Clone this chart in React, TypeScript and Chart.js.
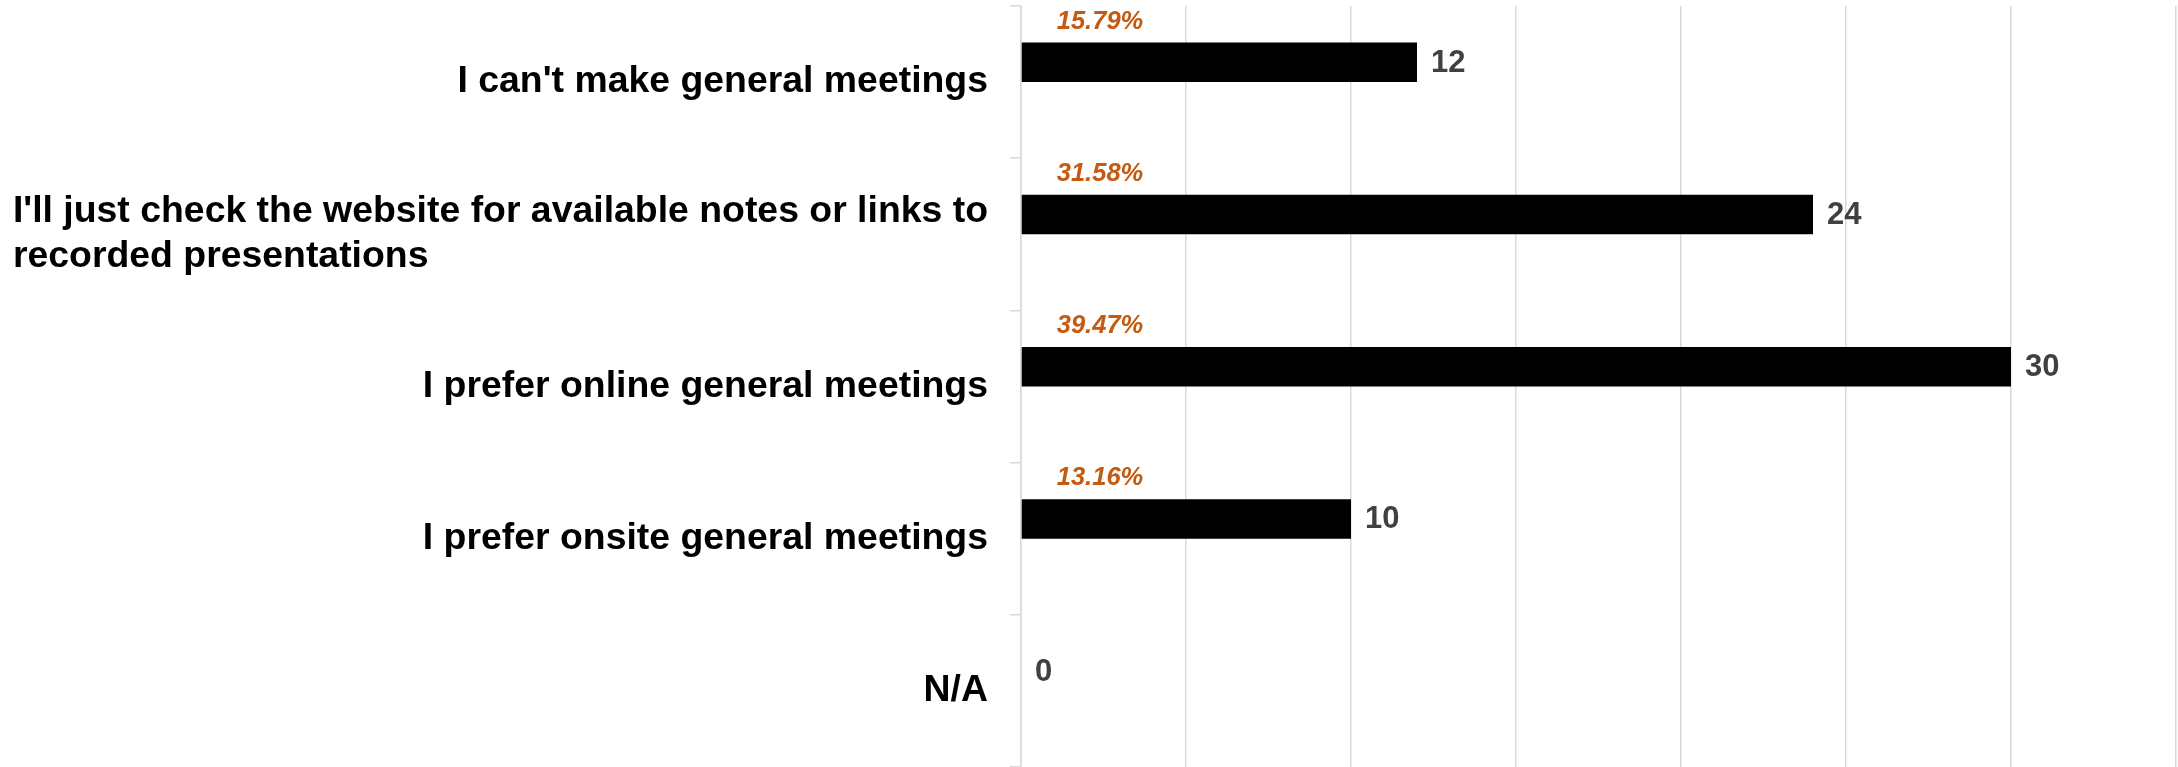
import { useEffect, useRef } from 'react';
import { Chart, registerables } from 'chart.js';

Chart.register(...registerables);

const categories: string[][] = [
  ["I can't make general meetings"],
  ["I'll just check the website for available notes or links to", "recorded presentations"],
  ["I prefer online general meetings"],
  ["I prefer onsite general meetings"],
  ["N/A"],
];
const counts: number[] = [12, 24, 30, 10, 0];
const percentLabels: (string | null)[] = ["15.79%", "31.58%", "39.47%", "13.16%", null];
const spacer: (number | null)[] = [null, null, null, null, null];
const xMin = 0;
const xMax = 35;
const xStep = 5;

const FONT = 'Arial, "Liberation Sans", sans-serif';
const GRID = '#d9d9d9';

const labelPlugin = {
  id: 'customLabels',
  afterDraw(chart: any) {
    const ctx = chart.ctx as CanvasRenderingContext2D;
    const xs = chart.scales.x;
    const ys = chart.scales.y;
    const meta = chart.getDatasetMeta(0);
    ctx.save();
    ctx.textBaseline = 'middle';

    // category labels
    ctx.font = `bold 37.4px ${FONT}`;
    ctx.fillStyle = '#000000';
    const right = xs.left - 33;
    const lh = 45;
    (chart.data.labels as string[][]).forEach((lines, i) => {
      const cy = ys.getPixelForValue(i);
      const w = Math.max(...lines.map((l) => ctx.measureText(l).width));
      lines.forEach((line, j) => {
        const ly = cy + (j - (lines.length - 1) / 2) * lh;
        if (lines.length === 1) {
          ctx.textAlign = 'right';
          ctx.fillText(line, right, ly);
        } else {
          ctx.textAlign = 'left';
          ctx.fillText(line, right - w, ly);
        }
      });
    });

    // value labels
    const base = xs.getPixelForValue(0);
    meta.data.forEach((bar: any, i: number) => {
      const v = counts[i];
      ctx.font = `bold 31px ${FONT}`;
      ctx.fillStyle = '#404040';
      ctx.textAlign = 'left';
      ctx.fillText(String(v), bar.x + 14, bar.y + 1);
      const p = percentLabels[i];
      if (p) {
        ctx.font = `italic bold 25.5px ${FONT}`;
        ctx.fillStyle = '#C55A11';
        ctx.textAlign = 'center';
        ctx.fillText(p, base + 79, bar.y - bar.height / 2 - 21);
      }
    });
    ctx.restore();
  },
};

export default function App() {
  const ref = useRef<HTMLCanvasElement | null>(null);
  useEffect(() => {
    if (!ref.current) return;
    const chart = new Chart(ref.current, {
      type: 'bar',
      data: {
        labels: categories as any,
        datasets: [
          {
            label: 'Count',
            data: counts,
            backgroundColor: '#000000',
            borderWidth: 0,
          },
          {
            label: 'spacer',
            data: spacer as any,
            backgroundColor: 'rgba(0,0,0,0)',
          },
        ],
      },
      options: {
        indexAxis: 'y',
        responsive: false,
        animation: false,
        devicePixelRatio: 1,
        layout: { padding: { top: 6, right: 2, bottom: 0, left: 0 } },
        datasets: {
          bar: { barPercentage: 1, categoryPercentage: 0.52 },
        },
        plugins: {
          legend: { display: false },
          tooltip: { enabled: false },
          title: { display: false },
        },
        scales: {
          x: {
            min: xMin,
            max: xMax,
            ticks: { display: false, stepSize: xStep },
            grid: { color: GRID, lineWidth: 1.5, drawTicks: false },
            border: { display: false },
          },
          y: {
            ticks: { display: false },
            grid: {
              drawOnChartArea: false,
              drawTicks: true,
              tickLength: 11,
              color: GRID,
              lineWidth: 1.5,
            },
            border: { display: true, color: GRID, width: 1.5 },
            afterFit: (scale: any) => {
              scale.width = 1021;
            },
          },
        },
      },
      plugins: [labelPlugin],
    });
    return () => chart.destroy();
  }, []);

  return (
    <div style={{ position: 'fixed', left: 0, top: 0, width: 2178, height: 767, background: '#fff' }}>
      <canvas ref={ref} width={2178} height={767} style={{ display: 'block' }} />
    </div>
  );
}
